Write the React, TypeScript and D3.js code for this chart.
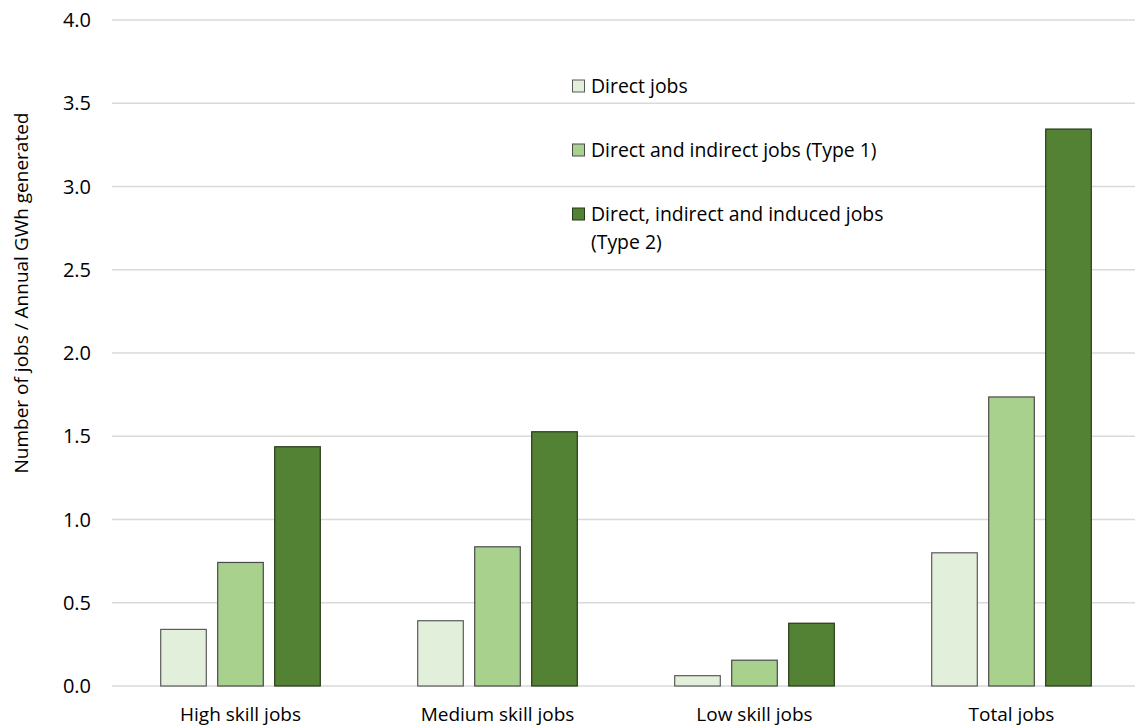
import React from "react";
import * as d3 from "d3";

// Job categories along the x axis
const categories = ["High skill jobs", "Medium skill jobs", "Low skill jobs", "Total jobs"];

// Series: jobs per annual GWh generated
const seriesNames = [
  "Direct jobs",
  "Direct and indirect jobs (Type 1)",
  "Direct, indirect and induced jobs (Type 2)",
];
const directJobs = [0.34, 0.392, 0.062, 0.8];
const type1Jobs = [0.742, 0.836, 0.155, 1.736];
const type2Jobs = [1.437, 1.527, 0.377, 3.345];

const yTicks = [0, 0.5, 1, 1.5, 2, 2.5, 3, 3.5, 4];

const seriesColors = ["#e2efda", "#a9d18e", "#548235"];
const seriesStrokes = ["#5a5a5a", "#4a4a4a", "#263a18"];

const W = 1135;
const H = 727;
const FONT = "'Open Sans', sans-serif";

export default function App() {
  const values = [directJobs, type1Jobs, type2Jobs];

  const x = d3.scaleBand<string>().domain(categories).range([112, 1140]).padding(0);
  const xInner = d3
    .scaleBand<string>()
    .domain(seriesNames)
    .range([-85.5, 85.5])
    .paddingInner(0.2)
    .paddingOuter(0.1);
  const y = d3.scaleLinear().domain([0, 4]).range([686, 20]);

  const legendRows = [
    { name: "Direct jobs", lines: ["Direct jobs"], y: 86 },
    { name: "Direct and indirect jobs (Type 1)", lines: ["Direct and indirect jobs (Type 1)"], y: 150 },
    {
      name: "Direct, indirect and induced jobs (Type 2)",
      lines: ["Direct, indirect and induced jobs", "(Type 2)"],
      y: 214,
    },
  ];

  return (
    <svg
      width={W}
      height={H}
      style={{ position: "absolute", left: 0, top: 0, background: "#fff" }}
      fontFamily={FONT}
    >
      <rect x={0} y={0} width={W} height={H} fill="#fff" />
      {/* horizontal gridlines */}
      {yTicks.map((t) => (
        <line
          key={`g${t}`}
          x1={112}
          x2={W}
          y1={y(t)}
          y2={y(t)}
          stroke="#d9d9d9"
          strokeWidth={1.3}
        />
      ))}
      {/* y tick labels */}
      {yTicks.map((t) => (
        <text
          key={`t${t}`}
          x={91}
          y={y(t)}
          dy="0.35em"
          textAnchor="end"
          fontSize={20}
          fill="#000"
        >
          {d3.format(".1f")(t)}
        </text>
      ))}
      {/* y axis title */}
      <text
        transform={`translate(28, 293) rotate(-90)`}
        textAnchor="middle"
        fontSize={19}
        fill="#000"
      >
        Number of jobs / Annual GWh generated
      </text>
      {/* bars */}
      {categories.map((c, ci) => (
        <g key={c} transform={`translate(${(x(c) ?? 0) + x.bandwidth() / 2},0)`}>
          {seriesNames.map((s, si) => {
            const v = values[si][ci];
            return (
              <rect
                key={s}
                x={xInner(s)}
                y={y(v)}
                width={xInner.bandwidth()}
                height={y(0) - y(v)}
                fill={seriesColors[si]}
                stroke={seriesStrokes[si]}
                strokeWidth={1.2}
              />
            );
          })}
          <text x={0} y={721} textAnchor="middle" fontSize={19} fill="#000">
            {c}
          </text>
        </g>
      ))}
      {/* legend */}
      {legendRows.map((r, i) => (
        <g key={r.name}>
          <rect
            x={572.5}
            y={r.y - 6}
            width={12}
            height={12}
            fill={seriesColors[i]}
            stroke={seriesStrokes[i]}
            strokeWidth={1}
          />
          {r.lines.map((ln, li) => (
            <text key={ln} x={591} y={r.y + li * 28} dy="0.35em" fontSize={19.4} fill="#000">
              {ln}
            </text>
          ))}
        </g>
      ))}
    </svg>
  );
}
